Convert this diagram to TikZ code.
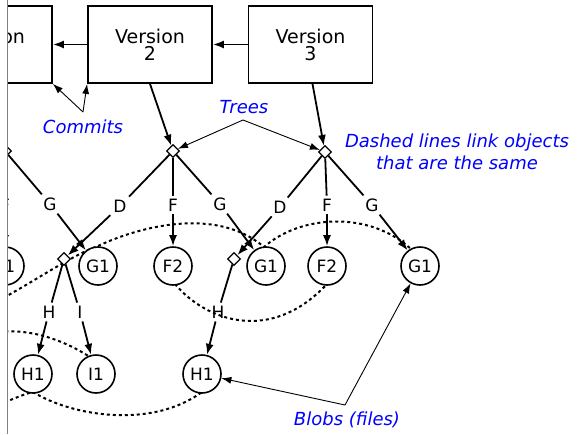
\documentclass[tikz,border=0pt]{standalone}
\usepackage{fontspec}
\setmainfont{DejaVu Sans}
\usetikzlibrary{arrows.meta,shapes.geometric}
\begin{document}
\begin{tikzpicture}[x=1pt,y=-1pt,
  box/.style={draw,line width=1.8pt,minimum width=124pt,minimum height=77pt,inner sep=0pt,align=center,font=\fontsize{19}{17}\selectfont},
  blob/.style={draw,circle,line width=1.6pt,minimum size=38pt,inner sep=0pt,fill=white,font=\fontsize{17}{17}\selectfont},
  tree/.style={draw,diamond,line width=1.3pt,minimum size=13pt,inner sep=0pt,fill=white},
  lbl/.style={inner sep=3pt,font=\fontsize{17}{17}\selectfont},
  conn/.style={line width=1.8pt,-{Latex[length=11pt,width=8pt]}},
  edge/.style={line width=1.8pt},
  note/.style={text=blue,font=\fontsize{18}{22}\selectfont\itshape,align=center},
  ann/.style={line width=0.9pt,-{Latex[length=10pt,width=7pt]}},
  same/.style={line width=2pt,dash pattern=on 3pt off 3pt},
]
\useasboundingbox (0,0) rectangle (577,434);
\begin{scope}
\clip (7.5,-1) rectangle (578,435);
% dotted "same object" curves (drawn first, under the nodes)
\draw[same] (-40,318) .. controls (10,300) and (60,260) .. (98,246)
            .. controls (136,228) and (215,205) .. (264,247)
            .. controls (300,215) and (370,210) .. (412,250);
\draw[same] (175,284) .. controls (205,320) and (270,345) .. (327,284);
\draw[same] (-40,345) .. controls (-10,325) and (40,325) .. (90,357);
\draw[same] (-40,420) .. controls (0,405) and (20,395) .. (33,392)
            .. controls (70,415) and (150,430) .. (202,392);

% commits
\node[box] (v1) at (-10,44.5) {Version\\1};
\node[box] (v2) at (150,44.5) {Version\\2};
\node[box] (v3) at (310.5,44.5) {Version\\3};
\draw[conn] (v3.west) -- (v2.east);
\draw[conn] (v2.west) -- (v1.east);

% trees
\node[tree] (t0) at (5,151) {};
\node[tree] (t1) at (173,151) {};
\node[tree] (t2) at (325,152) {};
\node[tree] (s1) at (64,259) {};
\node[tree] (s2) at (234,259) {};
\draw[conn] (v1.south) -- (t0);
\draw[conn] (v2.south) -- (t1);
\draw[conn] ([xshift=2pt]v3.south) -- (t2);

% blobs
\node[blob] (f10) at (5,266) {F1};
\node[blob] (g10) at (98,266) {G1};
\node[blob] (f21) at (173,266) {F2};
\node[blob] (g11) at (266,266) {G1};
\node[blob] (f22) at (327,266) {F2};
\node[blob] (g12) at (420,266) {G1};
\node[blob] (h1a) at (33,374) {H1};
\node[blob] (i1a) at (96,374) {I1};
\node[blob] (h1b) at (202,374) {H1};

% edge labels
\node[lbl] (lf0) at (5,205) {F};
\node[lbl] (lg0) at (50,204) {G};
\node[lbl] (ld1) at (120,206) {D};
\node[lbl] (lf1) at (173,205) {F};
\node[lbl] (lg1) at (220,204) {G};
\node[lbl] (ld2) at (280,207) {D};
\node[lbl] (lf2) at (327,205) {F};
\node[lbl] (lg2) at (372,205) {G};
\node[lbl] (lh1) at (49,312) {H};
\node[lbl] (li1) at (80,312) {I};
\node[lbl] (lh2) at (218,312) {H};

% tree 0
\draw[edge] (t0) -- (lf0);
\draw[conn] (lf0) -- (f10);
\draw[edge] (t0) -- (lg0);
\draw[conn] (lg0) -- (g10);
% tree 1
\draw[edge] (t1) -- (ld1);
\draw[conn] (ld1) -- (s1);
\draw[edge] (t1) -- (lf1);
\draw[conn] (lf1) -- (f21);
\draw[edge] (t1) -- (lg1);
\draw[conn] (lg1) -- (g11);
% tree 2
\draw[edge] (t2) -- (ld2);
\draw[conn] (ld2) -- (s2);
\draw[edge] (t2) -- (lf2);
\draw[conn] (lf2) -- (f22);
\draw[edge] (t2) -- (lg2);
\draw[conn] (lg2) -- (g12);
% subtrees
\draw[edge] (s1) -- (lh1);
\draw[conn] (lh1) -- (h1a);
\draw[edge] (s1) -- (li1);
\draw[conn] (li1) -- (i1a);
\draw[edge] (s2) -- (lh2);
\draw[conn] (lh2) -- (h1b);

% annotations
\node[note] (ncommits) at (83,127) {Commits};
\coordinate (cvx) at (83,112);
\draw[ann] (cvx) -- (v1.south east);
\draw[ann] (cvx) -- (v2.south west);

\node[note] (ntrees) at (244,107) {Trees};
\coordinate (tvx) at (243,120);
\draw[ann] (tvx) -- (t1);
\draw[ann] (tvx) -- (t2);

\node[note] (ndashed) at (457,152) {Dashed lines link objects\\that are the same};

\node[note] (nblobs) at (347,420) {Blobs (files)};
\coordinate (bvx) at (345,405);
\draw[ann] (bvx) -- (h1b);
\draw[ann] (bvx) -- (g12);
\end{scope}
\draw[gray,line width=0.9pt] (7,0) -- (7,434);
\end{tikzpicture}
\end{document}
